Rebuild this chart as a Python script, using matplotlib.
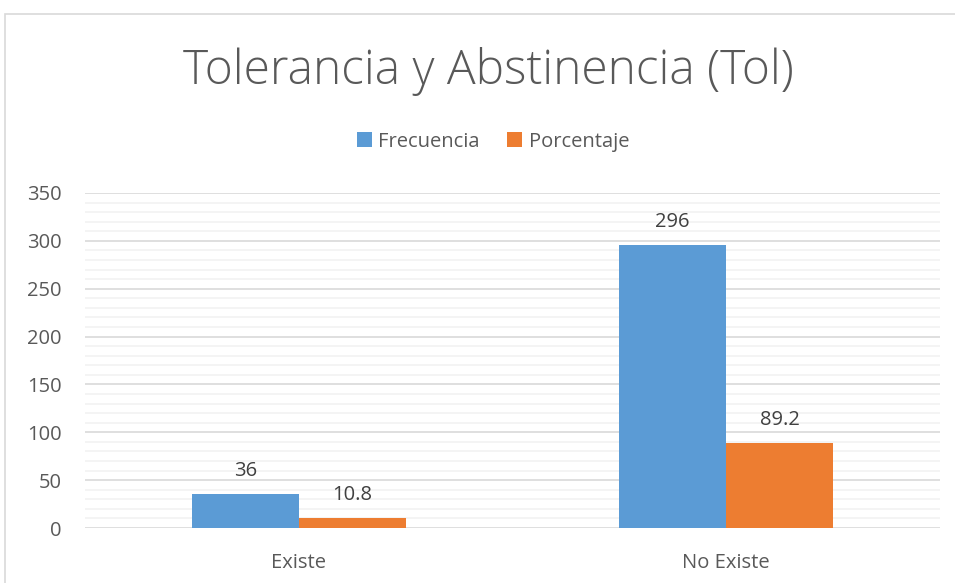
import matplotlib.pyplot as plt
from matplotlib.patches import Rectangle

categories = ["Existe", "No Existe"]
frecuencia = [36, 296]
porcentaje = [10.8, 89.2]
series_names = ["Frecuencia", "Porcentaje"]

blue = "#5B9BD5"
orange = "#ED7D31"
text_col = "#595959"

plt.rcParams['font.family'] = ['Open Sans', 'DejaVu Sans']

fig = plt.figure(figsize=(9.55, 5.83), dpi=100)
ax = fig.add_axes([0.089, 0.0943, 0.895, 0.5747])

# chart border (cropped on right/bottom in the reference)
fig.patches.append(Rectangle((5 / 955, -0.1), 1.2, 1 - 14 / 583 + 0.1,
                             transform=fig.transFigure, fill=False,
                             edgecolor="#d9d9d9", linewidth=1.2))

x = list(range(len(categories)))
w = 0.25
b1 = ax.bar([i - w / 2 for i in x], frecuencia, w, color=blue, label=series_names[0])
b2 = ax.bar([i + w / 2 for i in x], porcentaje, w, color=orange, label=series_names[1])

for bars, vals in ((b1, frecuencia), (b2, porcentaje)):
    for rect, v in zip(bars, vals):
        ax.annotate(f"{v:g}", (rect.get_x() + rect.get_width() / 2, v),
                    xytext=(0, 9), textcoords="offset points",
                    ha="center", va="bottom", fontsize=14.5, color="#404040")

ax.set_xlim(-0.5, 1.5)
ax.set_ylim(0, 350)
ax.set_yticks(range(0, 351, 50))
ax.set_yticks(range(0, 351, 10), minor=True)
ax.set_xticks(x)
ax.set_xticklabels(categories)
ax.grid(axis="y", which="major", color="#d9d9d9", linewidth=1.2)
ax.grid(axis="y", which="minor", color="#f2f2f2", linewidth=1.2)
ax.set_axisbelow(True)
for s in ax.spines.values():
    s.set_visible(False)
ax.tick_params(axis="both", which="both", length=0, labelsize=14.5, colors=text_col)
ax.tick_params(axis="x", pad=18)
ax.tick_params(axis="y", pad=17)

fig.text(0.511, 0.877, "Tolerancia y Abstinencia (Tol)", ha="center", va="center",
         fontsize=34.5, color=text_col, fontweight="light")
fig.legend(loc="center", bbox_to_anchor=(0.516, 0.757), ncol=2, frameon=False,
           fontsize=14.5, labelcolor=text_col, handlelength=0.75, handleheight=0.75,
           columnspacing=1.4, handletextpad=0.3)

fig.savefig("out.png", dpi=100)
